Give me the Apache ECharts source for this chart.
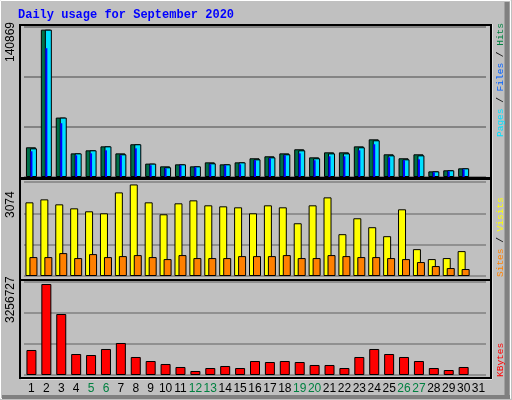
<!DOCTYPE html>
<html><head><meta charset="utf-8">
<script src="https://cdn.jsdelivr.net/npm/echarts@6/dist/echarts.min.js"></script>
<style>body{margin:0;background:#c0c0c0}#c{width:512px;height:400px}</style>
</head><body><div id="c"></div>
<script>
var days = [];
for (var d = 1; d <= 31; d++) days.push(String(d));
var weekends = ['5','6','12','13','19','20','26','27'];

// day 31 has no data yet
var hits = [28400,140869,56800,22600,25500,29300,22600,31300,12800,10200,12100,10200,14000,12100,14000,17900,19800,22600,26500,18800,23600,23600,29300,36000,21700,17900,21700,5400,6400,8300,null];
var files = [27400,140869,56800,22600,25500,29300,21700,31300,12800,9300,12100,10200,13100,12100,14000,16900,18800,21700,25500,17900,22600,22600,28400,35100,20700,16900,20700,5400,6400,8300,null];
var pages = [24600,123100,51400,20700,22600,25500,20700,27400,11200,8300,11200,9300,12100,11200,12100,16000,17900,20700,22600,16000,19800,19800,25500,31300,18800,16000,16900,4500,5400,7300,null];
var visits = [2473,2573,2406,2272,2172,2105,2807,3074,2473,2072,2440,2540,2373,2339,2306,2105,2373,2306,1771,2373,2640,1404,1938,1638,1337,2239,902,568,602,836,null];
var sites = [635,635,769,602,735,635,668,702,635,568,702,602,602,602,668,668,668,702,602,602,702,668,635,635,602,568,468,334,267,234,null];
var kbytes = [894700,3256727,2183000,751500,715700,930500,1145200,644200,501000,393700,286300,143100,250500,322100,250500,501000,465200,501000,465200,357900,357900,250500,644200,930500,751500,644200,501000,250500,178900,286300,null];
var maxLabels = ['140869', '3074', '3256727'];

var chart = echarts.init(document.getElementById('c'));
var font = 'Liberation Sans';
var grids = [
    {left: 24, width: 462, top: 27, height: 150},
    {left: 24, width: 462, top: 182, height: 94},
    {left: 24, width: 462, top: 282, height: 93}
];
var maxes = [143400, 3156, 3328200];

function xAx(i, show) {
    return {
        type: 'category', data: days, gridIndex: i, show: true,
        axisLine: {show: false}, axisTick: {show: false},
        axisLabel: {
            show: show, interval: 0, margin: 8, fontFamily: font, fontSize: 12,
            color: function (v) { return weekends.indexOf(v) >= 0 ? '#008040' : '#000'; }
        }
    };
}
function yAx(i) {
    return {
        type: 'value', gridIndex: i, min: 0, max: maxes[i], interval: maxes[i] / 3,
        axisLabel: {show: false}, axisLine: {show: false}, axisTick: {show: false},
        splitLine: {show: true, lineStyle: {color: '#808080', width: 1.5}}
    };
}
var bs = {borderColor: '#000', borderWidth: 1};

function sideText(x, yBottom, parts) {
    var txt = parts.map(function (p, k) { return '{s' + k + '|' + p[0] + '}'; }).join('');
    var rich = {};
    parts.forEach(function (p, k) { rich['s' + k] = {fill: p[1], fontFamily: 'Liberation Mono', fontSize: 9.5}; });
    return {type: 'text', x: x, y: yBottom, rotation: Math.PI / 2,
        style: {text: txt, rich: rich, align: 'left', verticalAlign: 'top'}};
}

var option = {
    backgroundColor: '#c0c0c0',
    animation: false,
    grid: grids,
    xAxis: [xAx(0, false), xAx(0, false), xAx(1, false), xAx(2, true)],
    yAxis: [yAx(0), yAx(0), yAx(1), yAx(2)],
    series: [
        {type: 'bar', name: 'Hits', xAxisIndex: 0, yAxisIndex: 0, data: hits, barWidth: 10, barGap: '-60%', itemStyle: Object.assign({color: '#007048'}, bs)},
        {type: 'bar', name: 'Files', xAxisIndex: 0, yAxisIndex: 0, data: files, barWidth: 7, barGap: '-60%', itemStyle: Object.assign({color: '#00e0ff'}, bs)},
        {type: 'bar', name: 'Pages', xAxisIndex: 1, yAxisIndex: 1, data: pages, barWidth: 2, itemStyle: {color: '#0000ff'}},
        {type: 'bar', name: 'Visits', xAxisIndex: 2, yAxisIndex: 2, data: visits, barWidth: 8, barGap: '-50%', itemStyle: Object.assign({color: '#ffff00'}, bs)},
        {type: 'bar', name: 'Sites', xAxisIndex: 2, yAxisIndex: 2, data: sites, barWidth: 8, barGap: '-50%', itemStyle: Object.assign({color: '#ff8000'}, bs)},
        {type: 'bar', name: 'KBytes', xAxisIndex: 3, yAxisIndex: 3, data: kbytes, barWidth: 10, itemStyle: Object.assign({color: '#ff0000'}, bs)}
    ],
    graphic: [
        {type: 'rect', shape: {x: 0.5, y: 0.5, width: 510, height: 398}, style: {fill: 'none', stroke: '#fff', lineWidth: 1}, z: -1},
        {type: 'line', shape: {x1: 507, y1: 2, x2: 507, y2: 398}, style: {stroke: '#808080', lineWidth: 5}},
        {type: 'line', shape: {x1: 2, y1: 397, x2: 510, y2: 397}, style: {stroke: '#808080', lineWidth: 4}},
        {type: 'rect', shape: {x: 20, y: 25, width: 471, height: 153}, style: {fill: 'none', stroke: '#000', lineWidth: 2}, z: 10},
        {type: 'rect', shape: {x: 20, y: 179, width: 471, height: 101}, style: {fill: 'none', stroke: '#000', lineWidth: 2}, z: 10},
        {type: 'rect', shape: {x: 20, y: 280, width: 471, height: 98}, style: {fill: 'none', stroke: '#000', lineWidth: 2}, z: 10},
        {type: 'line', shape: {x1: 21, y1: 379, x2: 492, y2: 379}, style: {stroke: '#fff', lineWidth: 1}},
        {type: 'line', shape: {x1: 492, y1: 24, x2: 492, y2: 379}, style: {stroke: '#fff', lineWidth: 1}},
        {type: 'text', x: 18, y: 9, style: {text: 'Daily usage for September 2020', fill: '#0000ff', fontFamily: 'Liberation Mono', fontWeight: 'bold', fontSize: 12}},
        {type: 'text', x: 5, y: 62, rotation: Math.PI / 2, style: {text: maxLabels[0], fill: '#000', fontFamily: font, fontSize: 12}},
        {type: 'text', x: 5, y: 218, rotation: Math.PI / 2, style: {text: maxLabels[1], fill: '#000', fontFamily: font, fontSize: 12}},
        {type: 'text', x: 5, y: 323, rotation: Math.PI / 2, style: {text: maxLabels[2], fill: '#000', fontFamily: font, fontSize: 12}},
        sideText(495, 137, [['Pages', '#00e0ff'], [' / ', '#000'], ['Files', '#0060ff'], [' / ', '#000'], ['Hits', '#008040']]),
        sideText(495, 277, [['Sites', '#ff8000'], [' / ', '#000'], ['Visits', '#ffff00']]),
        sideText(495, 377, [['KBytes', '#ff0000']])
    ]
};
chart.setOption(option);
</script></body></html>
